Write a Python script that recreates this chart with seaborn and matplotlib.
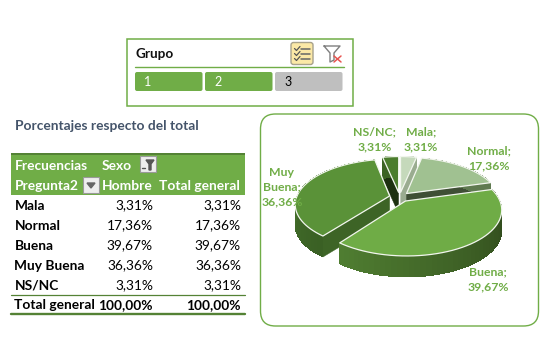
import numpy as np
import seaborn as sns
from matplotlib import pyplot as plt
from matplotlib.patches import FancyBboxPatch, Rectangle

# Datos de la tabla dinamica
categorias = ["Mala", "Normal", "Buena", "Muy Buena", "NS/NC"]
hombre = [3.31, 17.36, 39.67, 36.36, 3.31]
total_general = [3.31, 17.36, 39.67, 36.36, 3.31]
total_fila = [100.00, 100.00]
botones = ["1", "2", "3"]

# Colores de cada porcion: cara superior, corte, borde inicial y final del degradado
color_top = ["#c5d9bb", "#a0c191", "#6fac46", "#5a9238", "#4b7d2d"]
color_cut = ["#9aac90", "#3f4f35", "#2b4219", "#3d6426", "#1d3110"]
color_rim_a = ["#9aac90", "#5f7a50", "#2a4018", "#3a6024", "#3c6324"]
color_rim_b = ["#9aac90", "#5f7a50", "#4f7d31", "#4f8033", "#3c6324"]

VERDE = "#70ad47"
VERDE_OSC = "#548235"
GRIS = "#bfbfbf"

sns.set_theme(style="white")
plt.rcParams["font.family"] = ["Lato", "DejaVu Sans"]

fig = plt.figure(figsize=(5.51, 3.53), dpi=100)
ax = fig.add_axes([0, 0, 1, 1])
ax.set_xlim(0, 551)
ax.set_ylim(353, 0)
ax.axis("off")


def pct(v):
    return f"{v:.2f}%".replace(".", ",")


# Segmentador "Grupo"
ax.add_patch(Rectangle((127, 39), 226, 67, fc="white", ec=VERDE, lw=1.1))
ax.text(135, 54, "Grupo", fontsize=9.8, fontweight="bold", color="#111111", va="center")
ax.plot([135, 344], [67, 67], color=VERDE, lw=1)
for i, b in enumerate(botones):
    x0 = 135 + i * 70
    activo = i < 2
    ax.add_patch(FancyBboxPatch((x0 + 1, 73), 65.5, 17, boxstyle="round,pad=1,rounding_size=2",
                                fc=VERDE if activo else GRIS, ec="none"))
    ax.text(x0 + 9, 81.5, b, fontsize=9, va="center", color="white" if activo else "black")

# Iconos del segmentador
ax.add_patch(FancyBboxPatch((291.5, 43), 21, 21, boxstyle="round,pad=0.5,rounding_size=2.5",
                            fc="#fbe8a6", ec="#a8a28c", lw=1))
for yy in (48.5, 53.5, 58.5):
    ax.plot([294.5, 296.5, 300], [yy, yy + 2, yy - 2], color="#555555", lw=0.9)
    ax.plot([301, 310], [yy + 0.5, yy + 0.5], color="#666666", lw=1.1)
ax.plot([324, 340, 334, 334, 330, 330, 324], [46, 46, 53, 60, 62, 53, 46], color="#7f7f7f", lw=1)
ax.plot([334, 341], [56, 62], color="#e8534f", lw=1.1)
ax.plot([341, 334], [56, 62], color="#e8534f", lw=1.1)

# Titulo de la tabla
ax.text(15, 126, "Porcentajes respecto del total", fontsize=9.9, fontweight="bold", color="#44546a", va="center")

# Tabla dinamica
ax.add_patch(Rectangle((11, 153), 234, 42, fc=VERDE, ec="none"))
ax.add_patch(Rectangle((11, 153), 234, 2, fc=VERDE_OSC, ec="none"))
cab = dict(fontsize=9.9, fontweight="bold", color="white", va="center")
ax.text(14.5, 165.5, "Frecuencias", **cab)
ax.text(102, 165.5, "Sexo", **cab)
ax.text(14.5, 185.5, "Pregunta2", **cab)
ax.text(102, 185.5, "Hombre", **cab)
ax.text(240, 185.5, "Total general", ha="right", **cab)
for x0, y0 in ((140, 156), (83, 177)):
    ax.add_patch(Rectangle((x0, y0), 16, 16, fc="#eeeeee", ec="#9a9a9a", lw=0.8))
ax.fill([87, 95, 91], [183, 183, 188], color="#666666")
ax.fill([146, 154, 151, 151, 149, 149], [160, 160, 164, 170, 170, 164], color="#555555")
ax.plot([142, 145], [168, 168], color="#555555", lw=1)

fila = dict(fontsize=9.9, color="black", va="center")
for i, c in enumerate(categorias):
    y = 205.5 + i * 20
    ax.text(14.5, y, c, fontweight="bold", **fila)
    ax.text(153, y, pct(hombre[i]), ha="right", **fila)
    ax.text(241, y, pct(total_general[i]), ha="right", **fila)
ax.plot([11, 245], [294.5, 294.5], color=VERDE_OSC, lw=0.9)
ax.text(14.5, 305, "Total general", fontweight="bold", **fila)
ax.text(153, 305, pct(total_fila[0]), ha="right", fontweight="bold", **fila)
ax.text(241, 305, pct(total_fila[1]), ha="right", fontweight="bold", **fila)
ax.plot([11, 245], [314, 314], color=VERDE_OSC, lw=1.7)

# Marco del grafico
ax.add_patch(FancyBboxPatch((260.5, 114), 278, 212, boxstyle="round,pad=0,rounding_size=15",
                            fc="white", ec=VERDE, lw=1))

# Tarta 3D con perspectiva sencilla
CX, CY, RX, RY, P, PROF, EXPL = 399.6, 197, 93, 43.6, 0.177, 21, 0.11
fracciones = np.array(hombre) / sum(hombre)
bordes = np.concatenate([[0], np.cumsum(fracciones)]) * 2 * np.pi


def proyecta(u, v):
    s = 1 / (1 - P * v)
    return CX + RX * u * s, CY + RY * v * s


def cara_corte(i, ang, ou, ov):
    x0, y0 = proyecta(ou, ov)
    x1, y1 = proyecta(ou + np.sin(ang), ov - np.cos(ang))
    ax.fill([x0, x1, x1, x0], [y0, y1, y1 + PROF, y0 + PROF], color=color_cut[i], lw=0.3, ec=color_cut[i])


for i in [4, 0, 1, 3, 2]:
    a0, a1 = bordes[i], bordes[i + 1]
    med = (a0 + a1) / 2
    ou, ov = EXPL * np.sin(med), -EXPL * np.cos(med)
    # caras de corte visibles segun su normal
    if np.cos(a0 - np.pi / 2) < -1e-6:
        cara_corte(i, a0, ou, ov)
    if np.cos(a1 + np.pi / 2) < -1e-6:
        cara_corte(i, a1, ou, ov)
    # lateral exterior con degradado, cada tramo solapa al siguiente para evitar rayas
    angs = np.linspace(a0, a1, 50)
    xs, ys = proyecta(ou + np.sin(angs), ov - np.cos(angs))
    grad = sns.blend_palette([color_rim_a[i], color_rim_b[i]], len(angs) - 1)
    for k in range(len(angs) - 1):
        f = min(k + 2, len(angs) - 1)
        ax.fill([xs[k], xs[f], xs[f], xs[k]], [ys[k], ys[f], ys[f] + PROF, ys[k] + PROF],
                color=grad[k], lw=0, antialiased=False)
    # cara superior
    ax0, ay0 = proyecta(ou, ov)
    ax.fill(np.r_[ax0, xs], np.r_[ay0, ys], fc=color_top[i], ec="#f2f6ee", lw=0.9, joinstyle="round")

# Etiquetas de datos
etiq = dict(fontsize=8.8, fontweight="bold", color=VERDE, ha="center", va="center", linespacing=1.4)
ax.text(420.7, 139.5, f"Mala;\n{pct(hombre[0])}", **etiq)
ax.text(489, 158.5, f"Normal;\n{pct(hombre[1])}", **etiq)
ax.text(488, 279.5, f"Buena;\n{pct(hombre[2])}", **etiq)
ax.text(282, 187, f"Muy\nBuena;\n{pct(hombre[3])}", **etiq)
ax.text(375, 139.5, f"NS/NC;\n{pct(hombre[4])}", **etiq)

fig.savefig("out.png", dpi=100)
